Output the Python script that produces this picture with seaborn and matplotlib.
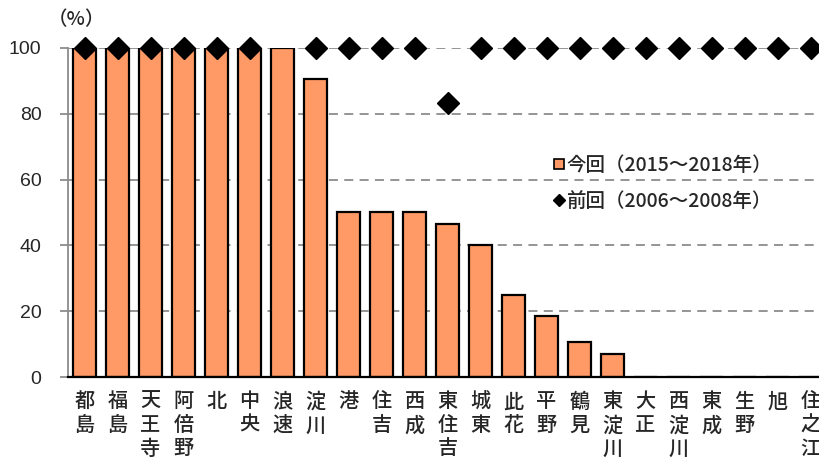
import matplotlib
matplotlib.use("Agg")
import matplotlib.pyplot as plt
from matplotlib.lines import Line2D
import numpy as np
import pandas as pd
import seaborn as sns

# Wards of Osaka City
wards = ["都島", "福島", "天王寺", "阿倍野", "北", "中央", "浪速", "淀川", "港", "住吉",
         "西成", "東住吉", "城東", "此花", "平野", "鶴見", "東淀川", "大正", "西淀川",
         "東成", "生野", "旭", "住之江"]
# Current survey (2015-2018), %
current = [100, 100, 100, 100, 100, 100, 100, 90.7, 50, 50,
           50, 46.4, 40.1, 25.0, 18.4, 10.5, 7.1, 0, 0,
           0, 0, 0, 0]
# Previous survey (2006-2008), %; NaN = no value
previous = [100, 100, 100, 100, 100, 100, np.nan, 100, 100, 100,
            100, 83.3, 100, 100, 100, 100, 100, 100, 100,
            100, 100, 100, 100]
yticks = [0, 20, 40, 60, 80, 100]
label_cur = "今回（2015～2018年）"
label_prev = "前回（2006～2008年）"

sns.set_theme(style="white")
plt.rcParams["font.family"] = ["Noto Sans CJK JP", "DejaVu Sans"]

BAR = "#FF9A66"

df = pd.DataFrame({"ward": wards, "current": current, "previous": previous})

fig = plt.figure(figsize=(8.19, 4.61), dpi=100)
n = len(wards)
# axes spans wider than the canvas so the last category is cut at the right
ax = fig.add_axes([68 / 819, 1 - 377 / 461, (33.0 * n) / 819, (377 - 48) / 461])

for y in yticks[1:]:
    ax.axhline(y, color="#8c8c8c", lw=1.3, ls=(0, (5, 3.5)), zorder=0)

sns.barplot(data=df, x="ward", y="current", color=BAR, edgecolor="black",
            linewidth=1.6, width=0.72, saturation=1, ax=ax, zorder=2)

ax.plot(np.arange(n), df["previous"], ls="none", marker="D", ms=11.3,
        color="black", mec="black", clip_on=False, zorder=5)

ax.set_xlim(-0.5, n - 0.5)
ax.set_ylim(0, 100)
ax.set_yticks(yticks)
ax.set_yticklabels([str(v) for v in yticks], fontsize=14, family="Liberation Sans")
ax.set_xticks(np.arange(n))
ax.set_xticklabels(["\n".join(w) for w in wards], fontsize=14.5, linespacing=1.3,
                   va="top", fontweight="medium")
ax.set_xticks(np.arange(n + 1) - 0.5, minor=True)
ax.tick_params(axis="x", which="major", length=0, pad=11)
ax.tick_params(axis="x", which="minor", length=5, width=1.5, color="black", direction="out")
ax.tick_params(axis="y", which="major", length=6, width=1.3, color="#8c8c8c",
               direction="out", pad=13, left=True)
ax.set_xlabel("")
ax.set_ylabel("")

for s in ["top", "right"]:
    ax.spines[s].set_visible(False)
ax.spines["left"].set_color("#8c8c8c")
ax.spines["left"].set_linewidth(1.3)
ax.spines["bottom"].set_color("black")
ax.spines["bottom"].set_linewidth(1.6)
ax.spines["bottom"].set_zorder(6)

fig.text(48 / 819, 1 - 20 / 461, "（%）", fontsize=14, va="center", ha="left",
         fontweight="medium")

handles = [
    Line2D([], [], ls="none", marker="s", ms=7, mfc=BAR, mec="black", mew=1.2),
    Line2D([], [], ls="none", marker="D", ms=6.5, mfc="black", mec="black"),
]
fig.legend(handles, [label_cur, label_prev], loc="upper left",
           bbox_to_anchor=(543 / 819, 1 - 146 / 461), frameon=False,
           handlelength=0.6, handletextpad=0.1, labelspacing=0.9, borderpad=0,
           prop={"weight": "medium", "size": 14})

fig.savefig("out.png", dpi=100)
